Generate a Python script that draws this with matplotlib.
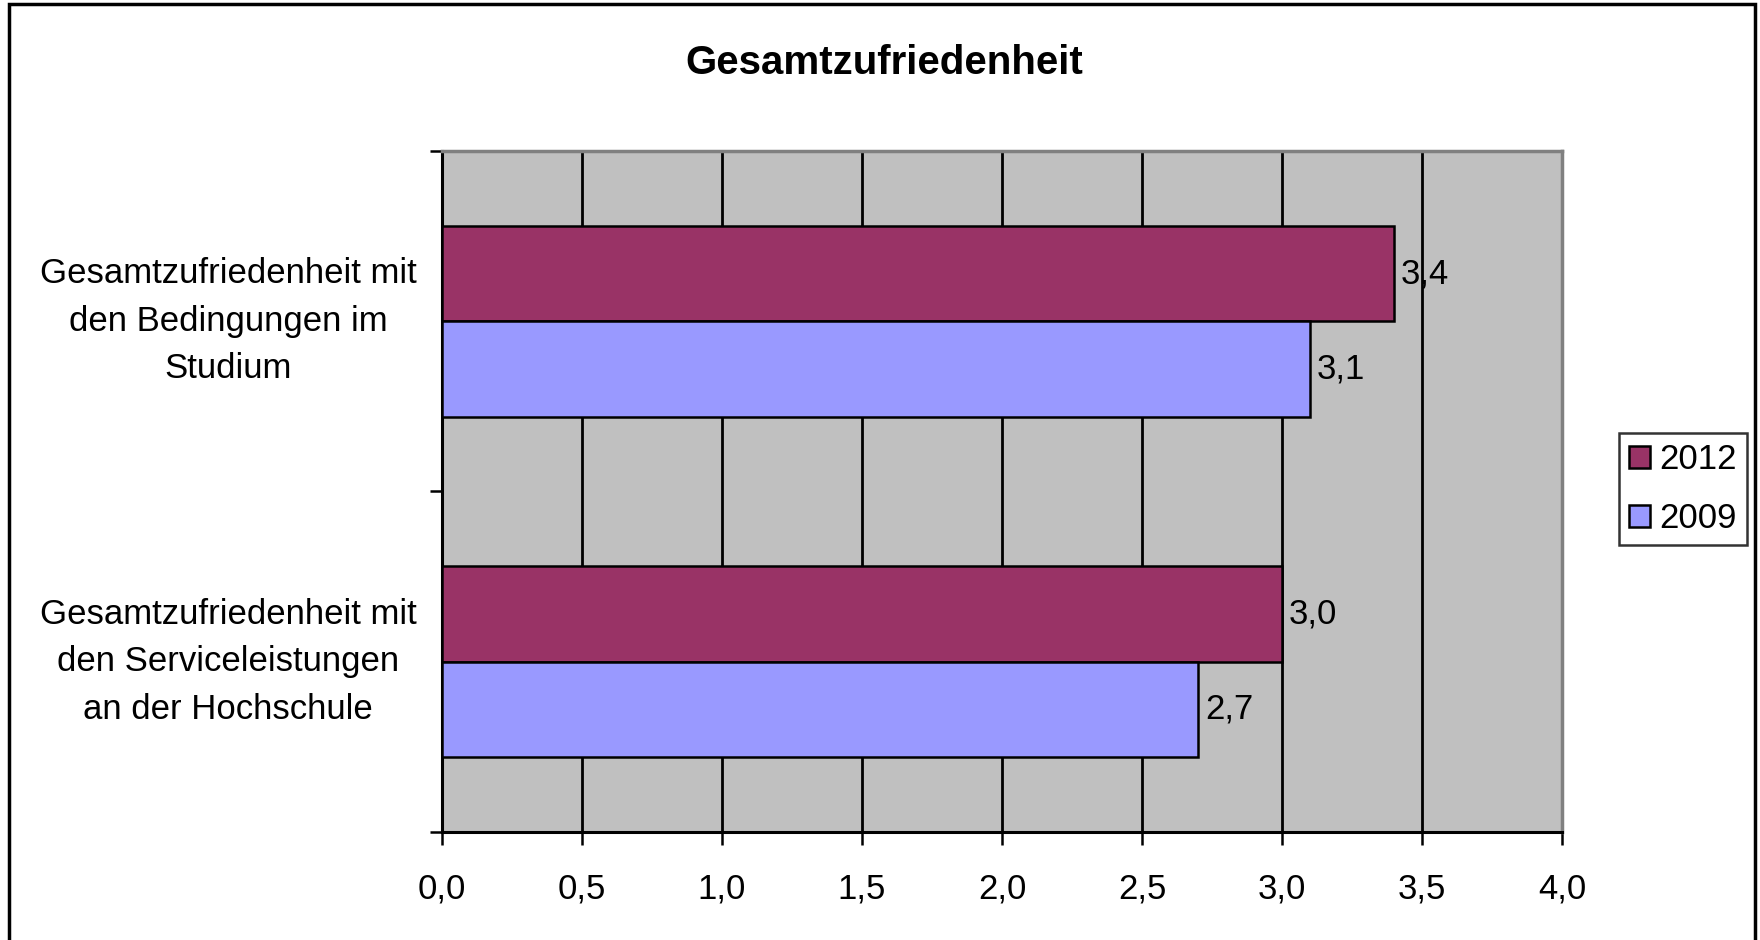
import matplotlib
matplotlib.use('Agg')
from matplotlib import pyplot as plt
from matplotlib.patches import Rectangle
from matplotlib.ticker import FuncFormatter, MultipleLocator
import matplotlib.transforms as mtransforms

categories = ['Gesamtzufriedenheit mit\nden Bedingungen im\nStudium',
              'Gesamtzufriedenheit mit\nden Serviceleistungen\nan der Hochschule']
series     = ['2012', '2009']
values_2012 = [3.4, 3.0]
values_2009 = [3.1, 2.7]
colors     = {'2012': '#993366', '2009': '#9999FF'}
title      = 'Gesamtzufriedenheit'

plt.rcParams['font.family'] = ['Liberation Sans', 'DejaVu Sans']
fs = 25

fig = plt.figure(figsize=(17.6, 9.4), dpi=100)
ax = fig.add_axes([0.2511, 0.1149, 0.6364, 0.7245])
ax.set_facecolor('#C0C0C0')

# figure border
fig.patches.append(Rectangle((9/1760, -0.05), (1755-9)/1760, 1.0 - 4/940 + 0.05,
                             transform=fig.transFigure, fill=False,
                             edgecolor='black', linewidth=2.5))

centers = [1.5 - i for i in range(len(categories))]
h = 0.28
bars_2012 = ax.barh([c + h/2 for c in centers], values_2012, height=h,
                    color=colors['2012'], edgecolor='black', linewidth=1.8,
                    label='2012', zorder=3)
bars_2009 = ax.barh([c - h/2 for c in centers], values_2009, height=h,
                    color=colors['2009'], edgecolor='black', linewidth=1.8,
                    label='2009', zorder=3)

for bars, vals in ((bars_2012, values_2012), (bars_2009, values_2009)):
    for bar, v in zip(bars, vals):
        ax.annotate(f'{v:.1f}'.replace('.', ','),
                    (bar.get_width(), bar.get_y() + bar.get_height()/2),
                    xytext=(5, 0), textcoords='offset points',
                    ha='left', va='center', fontsize=fs, zorder=4)

ax.set_xlim(0, 4)
ax.set_ylim(0, 2)
ax.xaxis.set_major_locator(MultipleLocator(0.5))
ax.xaxis.set_major_formatter(FuncFormatter(lambda x, p: f'{x:.1f}'.replace('.', ',')))
ax.set_yticks([0, 1, 2])
ax.set_yticklabels([])
ax.tick_params(axis='x', direction='out', length=9, width=1.8, pad=20, labelsize=fs)
ax.tick_params(axis='y', direction='out', length=9, width=1.8)
ax.grid(axis='x', color='black', linewidth=2, zorder=1)
ax.set_axisbelow(True)

ax.spines['left'].set_color('black')
ax.spines['bottom'].set_color('black')
ax.spines['left'].set_linewidth(2.2)
ax.spines['bottom'].set_linewidth(2.2)
ax.spines['top'].set_color('#808080')
ax.spines['right'].set_color('#808080')
ax.spines['top'].set_linewidth(2.5)
ax.spines['right'].set_linewidth(2.5)

trans = mtransforms.blended_transform_factory(fig.transFigure, ax.transData)
for c, name in zip(centers, categories):
    ax.text(228/1760, c, name, transform=trans, ha='center', va='center',
            multialignment='center', fontsize=fs, linespacing=1.55)

fig.text(884/1760, 1 - 63/940, title, ha='center', va='center',
         fontsize=29, fontweight='bold')

leg = fig.legend(handles=[bars_2012, bars_2009], labels=series,
                 loc='center', bbox_to_anchor=(1683/1760, 1 - 489/940),
                 fontsize=fs, frameon=True, fancybox=False,
                 handlelength=0.6, handleheight=0.6, handletextpad=0.25,
                 borderpad=0.3, labelspacing=0.75, borderaxespad=0)
leg.get_frame().set_edgecolor('black')
leg.get_frame().set_linewidth(1.8)

fig.savefig('out.png', dpi=100)
